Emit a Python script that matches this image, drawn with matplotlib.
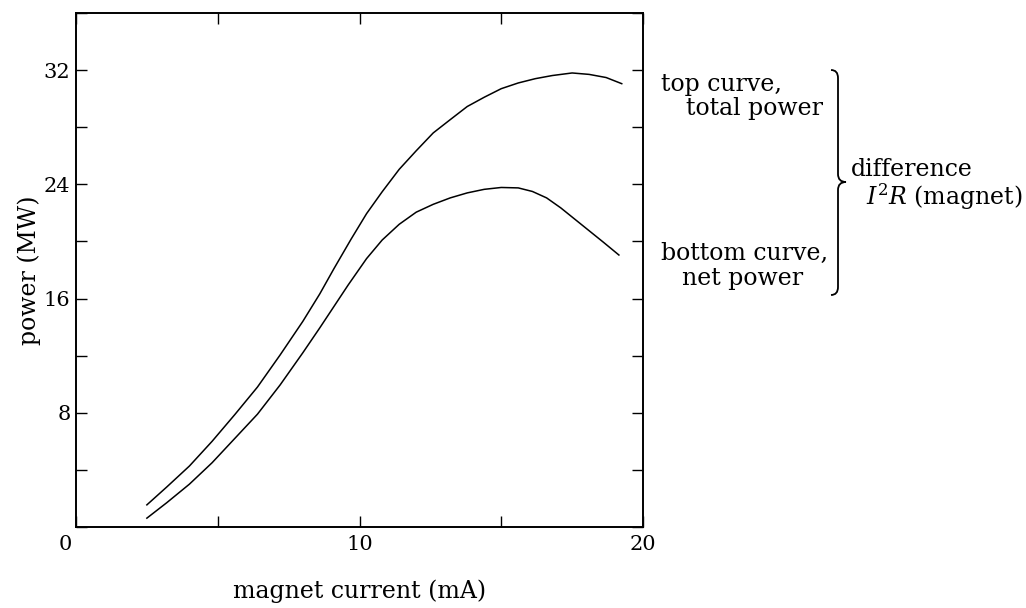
import matplotlib.pyplot as plt
from matplotlib.path import Path
from matplotlib.patches import PathPatch

plt.rcParams['font.family'] = 'DejaVu Serif'
plt.rcParams['mathtext.fontset'] = 'dejavuserif'

# values (magnet current in mA, power in MW)
current_top = [2.5, 3.2, 4.0, 4.8, 5.6, 6.4, 7.2, 8.0, 8.6, 9.1, 9.7, 10.25, 10.8, 11.4,
               12.0, 12.6, 13.2, 13.8, 14.4, 15.0, 15.6, 16.2, 16.8, 17.5, 18.1, 18.7, 19.25]
power_total = [1.55, 2.8, 4.27, 6.0, 7.87, 9.8, 12.05, 14.4, 16.33, 18.1, 20.15, 21.95, 23.48, 25.05,
               26.35, 27.6, 28.53, 29.45, 30.1, 30.7, 31.1, 31.4, 31.62, 31.8, 31.7, 31.48, 31.05]

current_bottom = [2.5, 3.2, 4.0, 4.8, 5.6, 6.4, 7.2, 8.0, 8.6, 9.1, 9.6, 10.25, 10.8, 11.4,
                  12.0, 12.6, 13.2, 13.8, 14.4, 15.0, 15.6, 16.1, 16.6, 17.1, 17.6, 18.1, 18.6, 19.15]
power_net = [0.62, 1.7, 3.0, 4.5, 6.2, 7.9, 9.95, 12.2, 13.95, 15.45, 16.95, 18.8, 20.1, 21.2,
             22.05, 22.6, 23.05, 23.4, 23.65, 23.78, 23.75, 23.5, 23.05, 22.35, 21.55, 20.75, 19.95, 19.05]

x_ticks = [0, 5, 10, 15, 20]
x_labels = ['', '', '10', '', '20']
y_ticks = [0, 4, 8, 12, 16, 20, 24, 28, 32, 36]
y_labels = ['', '', '8', '', '16', '', '24', '', '32', '']

fs = 17
tfs = 15
W, H = 1026, 608


def fx(px):
    return px / W


def fy(py):
    return 1 - py / H


fig = plt.figure(figsize=(10.26, 6.08), dpi=100)
ax = fig.add_axes([fx(76), fy(527), fx(643) - fx(76), fy(13) - fy(527)])

ax.plot(current_top, power_total, color='black', lw=1.1)
ax.plot(current_bottom, power_net, color='black', lw=1.1)

ax.set_xlim(0, 20)
ax.set_ylim(0, 36)
ax.set_xticks(x_ticks)
ax.set_xticklabels(x_labels)
ax.set_yticks(y_ticks)
ax.set_yticklabels(y_labels)
ax.tick_params(direction='in', length=8, width=1, top=True, right=True,
               labelsize=tfs, colors='black')
ax.tick_params(axis='x', pad=6)
ax.tick_params(axis='y', pad=4)
for s in ax.spines.values():
    s.set_linewidth(1.4)

# the origin label sits left of the corner
ax.annotate('0', xy=(0, 0), xycoords='axes fraction', xytext=(-8, -6),
            textcoords='offset points', ha='center', va='top', fontsize=tfs)

ax.set_xlabel('magnet current (mA)', fontsize=fs, labelpad=18)
ax.set_ylabel('power (MW)', fontsize=fs, labelpad=2)

# notes on the right
fig.text(fx(661), fy(85), 'top curve,', fontsize=fs, va='center', ha='left')
fig.text(fx(686), fy(109), 'total power', fontsize=fs, va='center', ha='left')
fig.text(fx(661), fy(253), 'bottom curve,', fontsize=fs, va='center', ha='left')
fig.text(fx(682), fy(278), 'net power', fontsize=fs, va='center', ha='left')
fig.text(fx(851), fy(185), 'difference\n  $I^2R$ (magnet)', fontsize=fs,
         va='center', ha='left', linespacing=1.05)

# curly brace
x0, xm, x1 = 831, 838, 846
ytop, ytip, ybot = 70, 182, 295
r = 8
verts = [
    (x0, ytop), (xm, ytop), (xm, ytop + r),
    (xm, ytip - r),
    (xm, ytip), (x1, ytip),
    (xm, ytip), (xm, ytip + r),
    (xm, ybot - r),
    (xm, ybot), (x0, ybot),
]
codes = [Path.MOVETO, Path.CURVE3, Path.CURVE3, Path.LINETO,
         Path.CURVE3, Path.CURVE3, Path.CURVE3, Path.CURVE3,
         Path.LINETO, Path.CURVE3, Path.CURVE3]
verts = [(fx(a), fy(b)) for a, b in verts]
brace = PathPatch(Path(verts, codes), transform=fig.transFigure,
                  fill=False, edgecolor='black', lw=1.3)
fig.patches.append(brace)

fig.savefig('out.png', dpi=100)
